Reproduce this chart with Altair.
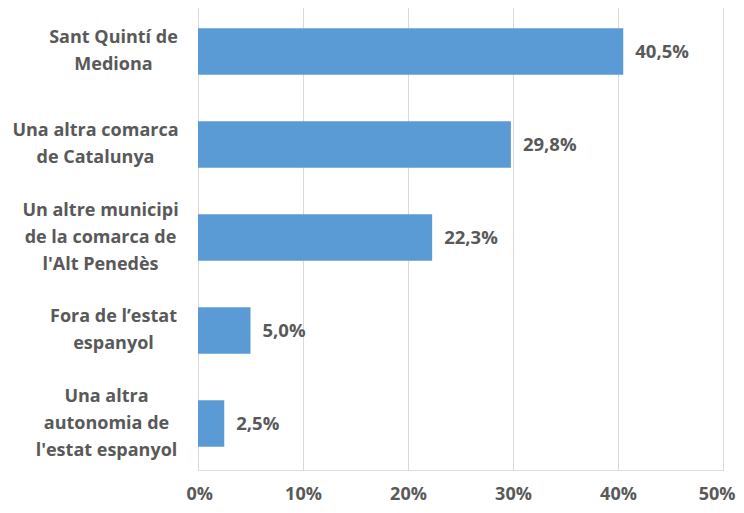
import altair as alt
import pandas as pd

categories = [
    "Sant Quintí de|Mediona",
    "Una altra comarca|de Catalunya",
    "Un altre municipi|de la comarca de|l'Alt Penedès",
    "Fora de l’estat|espanyol",
    "Una altra|autonomia de|l'estat espanyol",
]
values = [40.5, 29.8, 22.3, 5.0, 2.5]
labels = [f"{v:.1f}%".replace(".", ",") for v in values]
ticks = [0, 10, 20, 30, 40, 50]

df = pd.DataFrame({"cat": categories, "val": values, "lab": labels})

FONT = "Open Sans"
GREY = "#595959"
LH = 27

# distance from axis to the centre of each (centred) multi-line label block
label_pad = alt.ConditionalAxisNumber(
    condition=[
        {"test": f"datum.value == \"{categories[1]}\"", "value": 103},
        {"test": f"datum.value == \"{categories[2]}\"", "value": 98},
        {"test": f"datum.value == \"{categories[4]}\"", "value": 92},
    ],
    value=85,
)
# shift multi-line blocks up so that they are centred on the bar
label_off = alt.ConditionalAxisNumber(
    condition=[
        {"test": "length(split(datum.value, '|')) == 3", "value": -LH},
    ],
    value=-LH / 2,
)

y_enc = alt.Y(
    "cat:N",
    sort=categories,
    title=None,
    scale=alt.Scale(paddingInner=0.5, paddingOuter=0.25),
    axis=alt.Axis(
        labelExpr="split(datum.label, '|')",
        labelFont=FONT,
        labelFontSize=18,
        labelFontWeight="bold",
        labelColor=GREY,
        labelLineHeight=LH,
        labelPadding=label_pad,
        labelOffset=label_off,
        labelAlign="center",
        ticks=False,
        domain=True,
        domainColor="#D9D9D9",
        domainWidth=1,
        grid=False,
        labelLimit=300,
    ),
)

x_enc = alt.X(
    "val:Q",
    title=None,
    scale=alt.Scale(domain=[0, 50], nice=False),
    axis=alt.Axis(
        values=ticks,
        labelExpr="datum.value + '%'",
        labelFont=FONT,
        labelFontSize=18,
        labelFontWeight="bold",
        labelColor=GREY,
        labelPadding=15,
        labelFlush=True,
        labelFlushOffset=12,
        ticks=False,
        domain=False,
        grid=True,
        gridColor="#D9D9D9",
        gridWidth=1,
    ),
)

bars = alt.Chart(df).mark_bar(color="#5B9BD5").encode(x=x_enc, y=y_enc)

text = alt.Chart(df).mark_text(
    align="left",
    baseline="middle",
    dx=12,
    font=FONT,
    fontSize=18.5,
    fontWeight="bold",
    color=GREY,
).encode(x="val:Q", y=alt.Y("cat:N", sort=categories), text="lab:N")

chart = (
    alt.layer(bars, text)
    .properties(
        width=525,
        height=465,
        autosize=alt.AutoSizeParams(type="none"),
        padding={"left": 190, "top": -3, "right": 13, "bottom": 35},
    )
    .configure_view(stroke=None)
    .configure(background="white")
)

chart.save("out.html", embed_options={"renderer": "svg", "actions": False})
